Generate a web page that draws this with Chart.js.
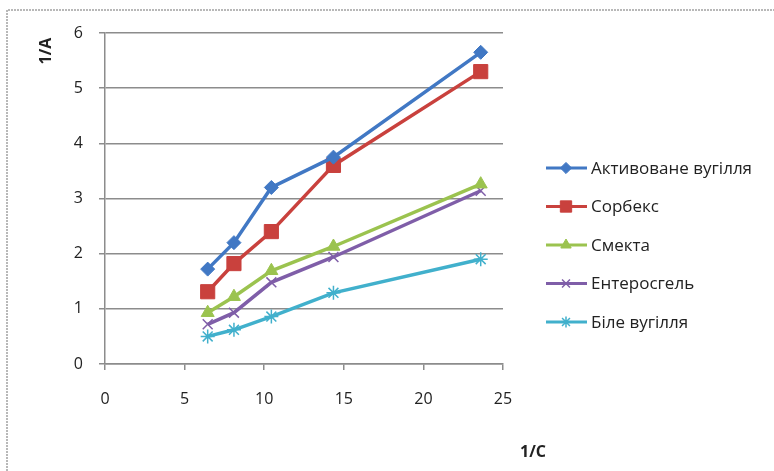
<!DOCTYPE html>
<html>
<head>
<meta charset="utf-8">
<script src="https://cdn.jsdelivr.net/npm/chart.js@4/dist/chart.umd.min.js"></script>
<style>
  html, body { margin: 0; padding: 0; background: #fff; }
  #wrap { width: 774px; height: 471px; }
</style>
</head>
<body>
<div id="wrap"><canvas id="adsChart" width="774" height="471"></canvas></div>
<script>
// 1/C values (x) and 1/A values (y) for each sorbent
var invC = [6.45, 8.1, 10.45, 14.35, 23.6];

var aktyvovane = [1.72, 2.2, 3.2, 3.75, 5.65];
var sorbeks = [1.31, 1.82, 2.4, 3.6, 5.3];
var smekta = [0.93, 1.22, 1.69, 2.13, 3.26];
var enterosgel = [0.72, 0.93, 1.48, 1.94, 3.14];
var bile = [0.5, 0.62, 0.86, 1.29, 1.9];

var seriesNames = ['Активоване вугілля', 'Сорбекс', 'Смекта', 'Ентеросгель', 'Біле вугілля'];
var xTitle = '1/C';
var yTitle = '1/A';

var FONT = '"Open Sans", Lato, sans-serif';

function pts(ys) {
  return ys.map(function (y, i) { return { x: invC[i], y: y }; });
}

function series(label, ys, color, style, radius) {
  return {
    label: label,
    data: pts(ys),
    showLine: true,
    borderColor: color,
    backgroundColor: color,
    pointBorderColor: color,
    pointBackgroundColor: color,
    pointStyle: style,
    pointRadius: radius,
    pointBorderWidth: (style === 'crossRot' || style === 'star') ? 1.5 : 1,
    borderWidth: 3.5,
    tension: 0
  };
}

/******************************************************************
LEGEND + AXIS TITLES + FRAME
******************************************************************/
var extras = {
  id: 'extras',
  afterDraw: function (chart) {
    var ctx = chart.ctx;
    ctx.save();

    // frame (top and left only, like the cropped Excel chart)
    ctx.strokeStyle = '#b8b8b8';
    ctx.lineWidth = 2;
    ctx.setLineDash([2, 1]);
    ctx.beginPath();
    ctx.moveTo(7, 471);
    ctx.lineTo(7, 10);
    ctx.lineTo(774, 10);
    ctx.stroke();
    ctx.setLineDash([]);

    // axis titles
    ctx.fillStyle = '#222';
    ctx.font = 'bold 16px ' + FONT;
    ctx.textAlign = 'center';
    ctx.textBaseline = 'middle';
    ctx.fillText(xTitle, 533, 452);
    ctx.save();
    ctx.translate(46, 51);
    ctx.rotate(-Math.PI / 2);
    ctx.fillText(yTitle, 0, 0);
    ctx.restore();

    // legend: line with marker, then name
    var y0 = 168, step = 38.5;
    chart.data.datasets.forEach(function (ds, i) {
      var y = y0 + i * step;
      ctx.strokeStyle = ds.borderColor;
      ctx.lineWidth = 3;
      ctx.beginPath();
      ctx.moveTo(546, y);
      ctx.lineTo(587, y);
      ctx.stroke();
      ctx.fillStyle = ds.backgroundColor;
      ctx.lineWidth = ds.pointBorderWidth;
      Chart.helpers.drawPoint(ctx, {
        pointStyle: ds.pointStyle,
        radius: ds.pointRadius * 0.8,
        rotation: 0,
        borderWidth: ds.pointBorderWidth
      }, 566, y);
      ctx.fillStyle = '#222';
      ctx.font = '17px ' + FONT;
      ctx.textAlign = 'left';
      ctx.fillText(ds.label, 591, y + 1);
    });
    ctx.restore();
  }
};

var ctx = document.getElementById('adsChart').getContext('2d');
var chart = new Chart(ctx, {
  type: 'scatter',
  data: {
    datasets: [
      series(seriesNames[0], aktyvovane, '#4178c4', 'rectRot', 7),
      series(seriesNames[1], sorbeks, '#c9413d', 'rect', 10),
      series(seriesNames[2], smekta, '#9bc34f', 'triangle', 7.5),
      series(seriesNames[3], enterosgel, '#7f5ea8', 'crossRot', 7),
      series(seriesNames[4], bile, '#41b0cc', 'star', 7)
    ]
  },
  options: {
    responsive: false,
    animation: false,
    layout: { padding: { left: 0, right: 271, top: 33, bottom: 0 } },
    plugins: {
      legend: { display: false },
      tooltip: { enabled: false }
    },
    scales: {
      x: {
        type: 'linear',
        min: 0,
        max: 25,
        ticks: { stepSize: 5, color: '#222', padding: 20, font: { family: FONT, size: 16 } },
        grid: { drawOnChartArea: false, drawTicks: true, tickLength: 6, color: '#8c8c8c', lineWidth: 1.5 },
        border: { color: '#8c8c8c', width: 1.5 },
        afterFit: function (scale) { scale.height = 107; }
      },
      y: {
        min: 0,
        max: 6,
        ticks: { stepSize: 1, color: '#222', padding: 16, font: { family: FONT, size: 16 } },
        grid: { color: '#8c8c8c', lineWidth: 1.5, tickLength: 6 },
        border: { color: '#8c8c8c', width: 1.5 },
        afterFit: function (scale) { scale.width = 105; }
      }
    }
  },
  plugins: [extras]
});
</script>
</body>
</html>
